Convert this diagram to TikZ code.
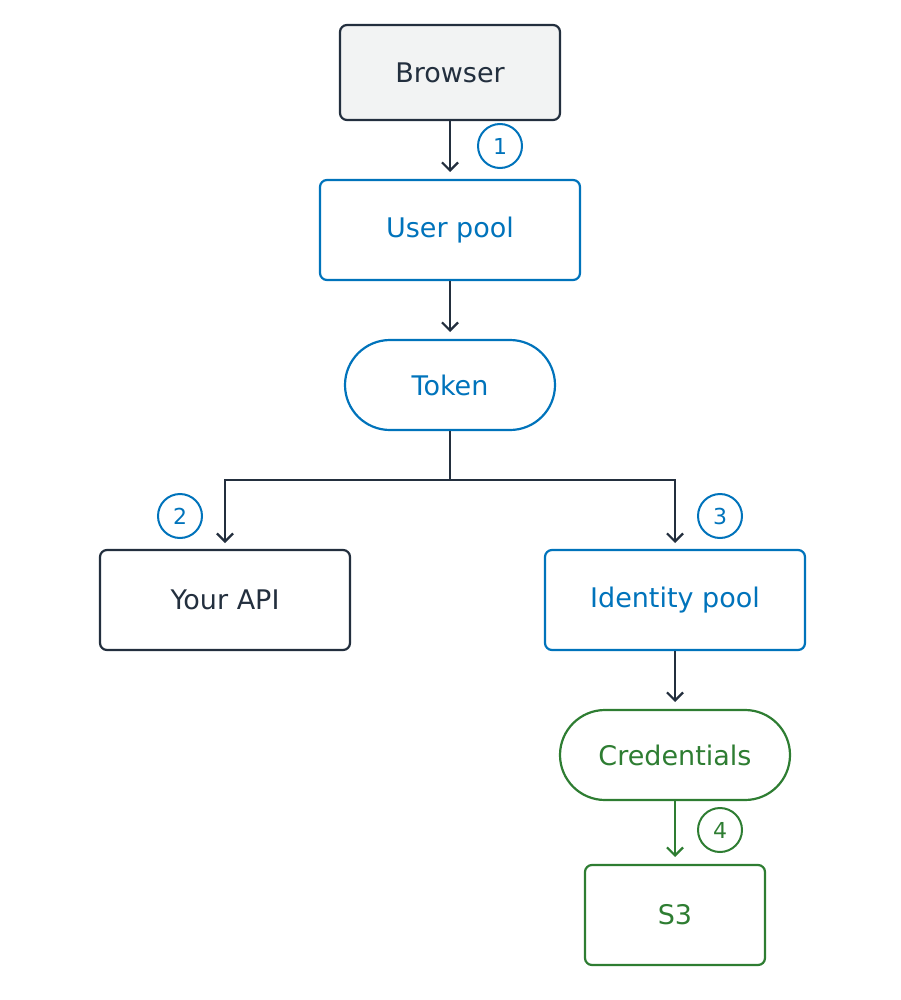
\documentclass[tikz,border=0pt]{standalone}
\usepackage{fontspec}
\setmainfont{DejaVu Sans}
\usetikzlibrary{arrows.meta,shapes.misc}
\definecolor{dk}{HTML}{232F3E}
\definecolor{bl}{HTML}{0073BB}
\definecolor{gr}{HTML}{2E7D32}
\definecolor{lg}{HTML}{F2F3F3}
\begin{document}
\begin{tikzpicture}[x=1pt,y=-1pt,
 box/.style={draw,line width=2.2pt,rounded corners=7pt,minimum height=100pt,inner sep=0pt,font=\fontsize{27}{30}\selectfont},
 pill/.style={draw,line width=2.2pt,rounded rectangle,minimum height=90pt,inner sep=0pt,font=\fontsize{27}{30}\selectfont},
 num/.style={draw,circle,line width=2pt,minimum size=44pt,inner sep=0pt,font=\fontsize{22}{24}\selectfont},
 arr/.style={line width=2.2pt,-{Straight Barb[length=8pt,width=16pt,line width=2.2pt]}}]
\useasboundingbox (0,0) rectangle (900,1000);
\node[box,draw=dk,fill=lg,text=dk,minimum width=220pt,minimum height=95pt] (br) at (450,72.5) {Browser};
\node[box,draw=bl,text=bl,minimum width=260pt] (up) at (450,230) {User pool};
\node[pill,draw=bl,text=bl,minimum width=210pt] (tk) at (450,385) {Token};
\node[box,draw=dk,text=dk,minimum width=250pt] (api) at (225,600) {Your API};
\node[box,draw=bl,text=bl,minimum width=260pt] (ip) at (675,600) {Identity pool};
\node[pill,draw=gr,text=gr,minimum width=230pt] (cr) at (675,755) {Credentials};
\node[box,draw=gr,text=gr,minimum width=180pt] (s3) at (675,915) {S3};
\node[num,draw=bl,text=bl] (n1) at (500,146) {1};
\node[num,draw=bl,text=bl] (n2) at (180,516) {2};
\node[num,draw=bl,text=bl] (n3) at (720,516) {3};
\node[num,draw=gr,text=gr] (n4) at (720,830) {4};
\coordinate (e1) at (450,172);
\coordinate (e2) at (450,332);
\coordinate (j) at (450,480);
\coordinate (e3) at (225,543);
\coordinate (e4) at (675,543);
\coordinate (e5) at (675,702);
\coordinate (e6) at (675,857);
\draw[arr,dk] (br) -- (e1);
\draw[arr,dk] (up) -- (e2);
\draw[arr,dk] (tk) -- (j) -| (e3);
\draw[arr,dk] (j) -| (e4);
\draw[arr,dk] (ip) -- (e5);
\draw[arr,gr] (cr) -- (e6);
\end{tikzpicture}
\end{document}
